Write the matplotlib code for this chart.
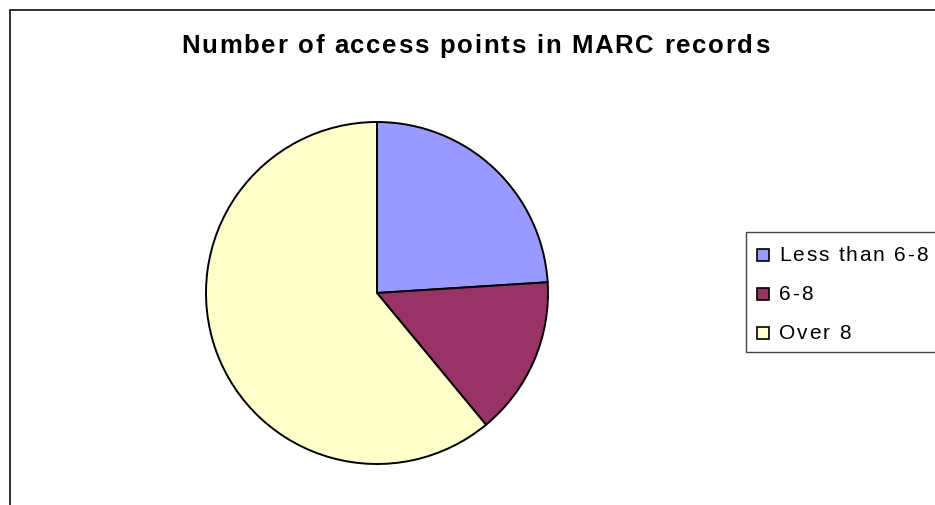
import matplotlib.pyplot as plt
from matplotlib.patches import Rectangle
from matplotlib.font_manager import FontProperties, findfont
from matplotlib.ft2font import FT2Font

plt.rcParams['font.family'] = ['Liberation Sans', 'DejaVu Sans']

# data (percent)
labels = ['Less than 6-8', '6-8', 'Over 8']
values = [24, 15, 61]
colors = ['#9999FF', '#993366', '#FFFFCC']
title = 'Number of access points in MARC records'

W, H = 935, 505
fig = plt.figure(figsize=(W / 100, H / 100), dpi=100)


def px(x, y):
    # pixel coords (from top left) -> figure fraction
    return x / W, 1 - y / H


def advances(s, fp, size):
    font = FT2Font(findfont(fp))
    font.set_size(size, 100)
    return [font.load_char(ord(c)).linearHoriAdvance / 65536 for c in s]


def tracked_text(x0, y, s, size, weight, track):
    """write s char by char with extra letter spacing (pixels)"""
    fp = FontProperties(family='Liberation Sans', weight=weight, size=size)
    x = x0
    for c, a in zip(s, advances(s, fp, size)):
        if c != ' ':
            fig.text(*px(x, y), c, fontproperties=fp, ha='left', va='baseline')
        x += a + track


def track_for(s, size, weight, width):
    fp = FontProperties(family='Liberation Sans', weight=weight, size=size)
    return (width - sum(advances(s, fp, size))) / (len(s) - 1)


# chart area border (right and bottom run off the image)
fig.patches.append(Rectangle(px(10, H + 20), 1.0, 1 - 10 / H + 20 / H,
                             transform=fig.transFigure, fill=False,
                             edgecolor='#222222', linewidth=1.3))

ax = fig.add_axes([0.2203, 0.0812, 0.3658, 0.6772])
ax.pie(values, colors=colors, startangle=90, counterclock=False,
       wedgeprops={'edgecolor': 'black', 'linewidth': 1.4})
ax.set_aspect('equal')
ax.set_xlim(-1, 1)
ax.set_ylim(-1, 1)

tsize = 18.5
tracked_text(181, 53, title, tsize, 'bold',
             track_for(title, tsize, 'bold', 588))

# legend box, drawn by hand so the text can be spaced like the original
fig.patches.append(Rectangle(px(746, 352), 0.5, 120 / H,
                             transform=fig.transFigure, facecolor='white',
                             edgecolor='#444444', linewidth=1.0))
lsize = 15
ltrack = track_for(labels[0], lsize, 'normal', 149)
baselines = [261, 299.5, 339]
for lab, col, yb in zip(labels, colors, baselines):
    fig.patches.append(Rectangle(px(757, yb), 12 / W, 12 / H,
                                 transform=fig.transFigure, facecolor=col,
                                 edgecolor='black', linewidth=1.2))
    tracked_text(779, yb, lab, lsize, 'normal', ltrack)

fig.savefig('out.png', dpi=100)
